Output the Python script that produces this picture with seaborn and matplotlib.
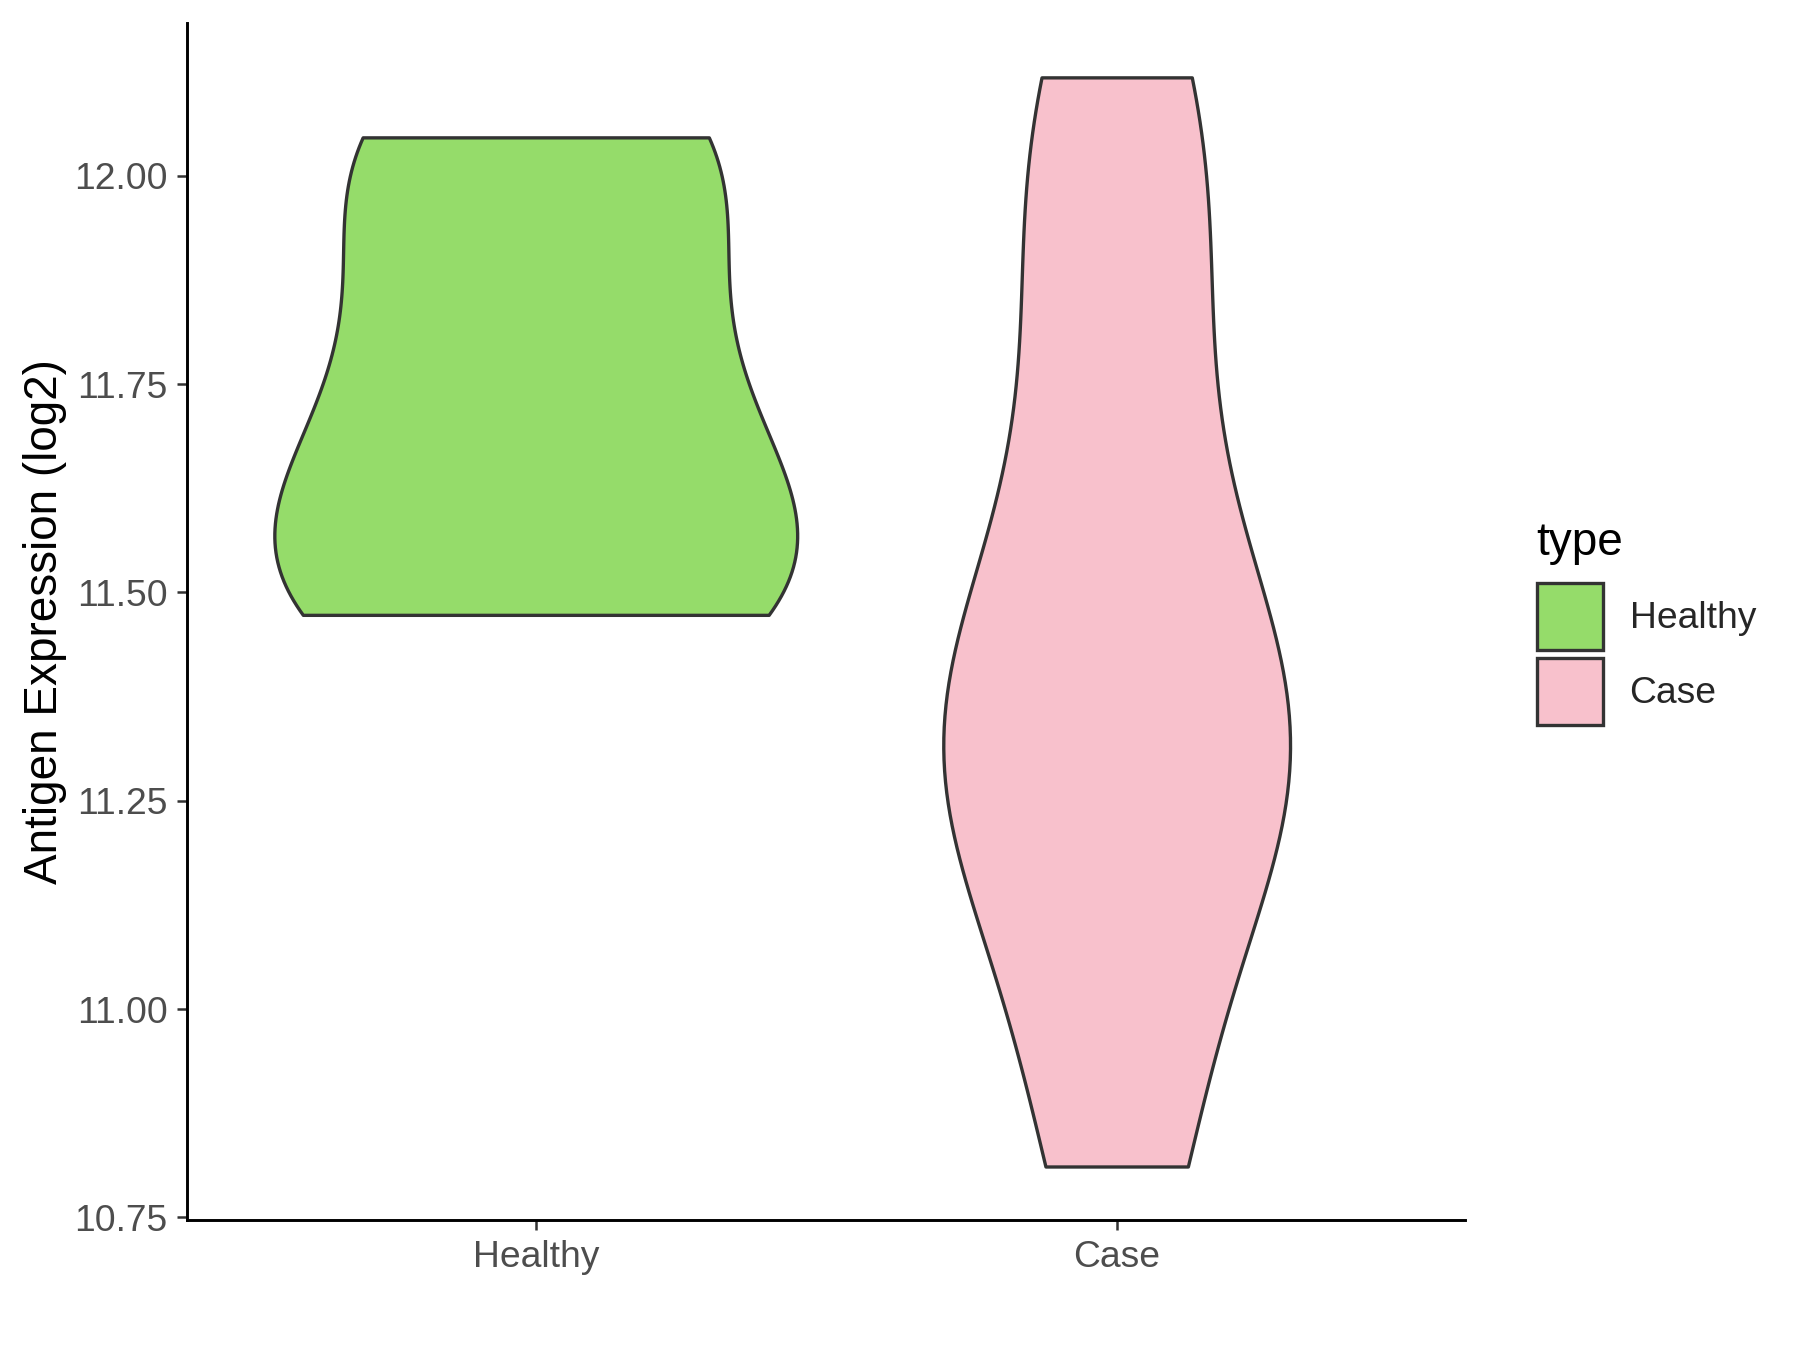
import numpy as np
import pandas as pd
import matplotlib
matplotlib.use("Agg")
import matplotlib.pyplot as plt
from matplotlib.patches import Patch
import seaborn as sns

# expression values per group (log2)
healthy_vals = [11.473, 11.483, 11.568, 11.690, 11.826, 12.030, 12.046]
case_vals = [10.811, 11.082, 11.276, 11.332, 11.383, 11.630, 11.908, 12.118]
groups = ["Healthy", "Case"]
colors = ["#95DC6A", "#F8C1CC"]
yticks = [10.75, 11.00, 11.25, 11.50, 11.75, 12.00]

df = pd.DataFrame({
    "type": ["Healthy"] * len(healthy_vals) + ["Case"] * len(case_vals),
    "value": healthy_vals + case_vals,
})


# R-style nrd0 bandwidth, as a factor of the sample sd
def nrd0_factor(kde):
    x = np.asarray(kde.dataset).ravel()
    sd = x.std(ddof=1)
    q75, q25 = np.percentile(x, [75, 25])
    lo = min(sd, (q75 - q25) / 1.34)
    return 0.9 * lo * len(x) ** -0.2 / sd


sns.set_style("ticks")
plt.rcParams["font.family"] = ["Liberation Sans", "DejaVu Sans"]

fig = plt.figure(figsize=(12, 9), dpi=150)
ax = fig.add_axes([0.104, 0.0963, 0.710, 0.8867])
sns.violinplot(data=df, x="type", y="value", hue="type", order=groups, hue_order=groups,
               palette=colors, cut=0, density_norm="area", common_norm=True, width=0.9,
               inner=None, linewidth=1.6, linecolor="#333333", saturation=1,
               bw_method=nrd0_factor, legend=False, ax=ax)

ax.set_xlim(-0.6, 1.6)
ax.set_ylim(10.7468, 12.1833)
ax.set_yticks(yticks)
ax.set_yticklabels(["%.2f" % v for v in yticks])
ax.set_xlabel("")
ax.set_ylabel("Antigen Expression (log2)", fontsize=22, color="black", labelpad=3.5)
ax.tick_params(axis="both", labelsize=17.9, labelcolor="#4D4D4D", color="#333333",
               length=4.7, width=1.2, pad=4.8)
sns.despine(ax=ax)
for side in ["left", "bottom"]:
    ax.spines[side].set_linewidth(1.4)
    ax.spines[side].set_color("black")

# legend (ggplot style: title above square keys)
handles = [Patch(facecolor=c, edgecolor="#333333", linewidth=1.6, label=g)
           for c, g in zip(colors, groups)]
ax.legend(handles=handles, loc="upper left", bbox_to_anchor=(0.8537, 0.5681),
          bbox_transform=fig.transFigure, frameon=False, fontsize=17.9,
          handlelength=1.79, handleheight=2.4, labelspacing=0.2, handletextpad=0.7,
          borderpad=0, borderaxespad=0)
fig.text(0.8537, 1 - 555 / 1350, "type", fontsize=22, color="black", ha="left", va="baseline")

fig.savefig("out.png")
